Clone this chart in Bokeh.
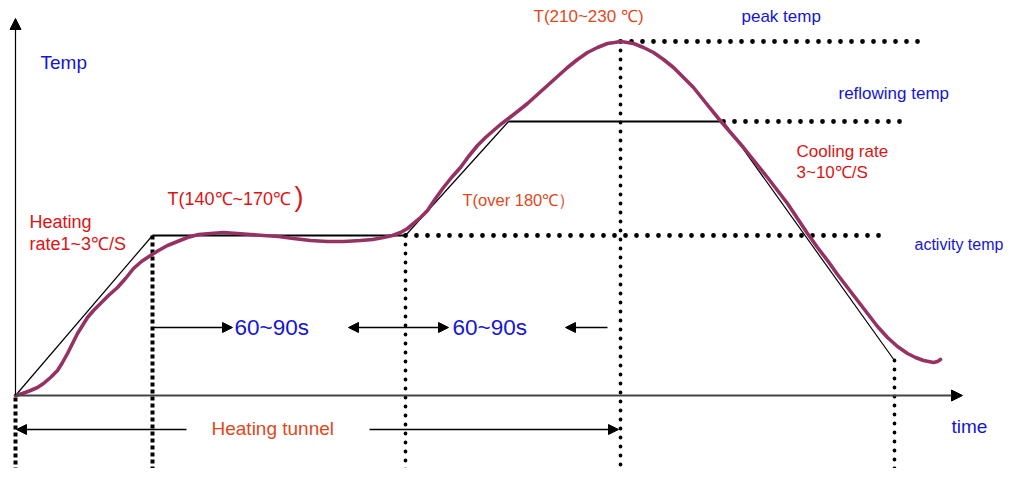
from bokeh.plotting import figure
from bokeh.models import Range1d, Arrow, NormalHead, ColumnDataSource
from bokeh.embed import file_html
from bokeh.resources import INLINE
from bokeh.core.properties import value

# ---------------- data (schematic coordinates; y grows downward) ----
# reflow temperature profile curve
curve_t = [15, 22, 30, 37, 43, 50, 57, 62, 67, 72, 77, 82, 87, 93, 100, 108, 117, 125, 133, 141,
           150, 158, 167, 177, 187, 198, 210, 223, 237, 250, 263, 278, 293, 310, 327, 343,
           360, 372, 383, 392, 400, 407, 413, 420, 427, 435, 443, 451, 460, 468, 477, 485, 493,
           500, 508, 517, 527, 537, 547, 557, 567, 577, 587, 597, 607, 614, 620, 627, 633, 643,
           653, 663, 673, 683, 693, 705, 718, 730, 743, 755, 767, 777, 787, 797, 807, 817, 827,
           837, 847, 857, 867, 877, 887, 897, 907, 915, 923, 928, 933, 937, 940]
curve_v = [395, 393, 390, 387, 383, 377, 370, 362, 353, 343, 333, 325, 317, 310, 303, 295, 287, 278,
           268, 261, 255, 250, 245, 241, 237, 234, 233, 232, 233, 234, 235, 236, 238, 240, 241, 241,
           240, 239, 237, 235, 232, 228, 223, 217, 210, 198, 187, 177, 167, 156, 145, 137, 130,
           124, 118, 111, 103, 94, 85, 76, 67, 59, 52, 47, 43, 42, 41, 42, 43, 47,
           52, 59, 67, 77, 87, 102, 118, 132, 147, 162, 177, 190, 203, 218, 233, 247, 260,
           274, 287, 300, 313, 326, 337, 346, 353, 357, 360, 361, 362, 361, 359]

# idealised profile (thin black polyline)
ideal_slope_t = [[15, 152], [405, 508], [723, 894]]
ideal_slope_v = [[395, 235], [235, 121], [121, 360]]
ideal_flat_t = [[152, 405], [508, 723]]
ideal_flat_v = [[235, 235], [121, 121]]

# key levels / times
t_start, t_soak, t_reflow, t_peak, t_end = 15, 152, 405, 620, 894
v_base, v_activity, v_reflow, v_peak, v_end = 395, 235, 121, 41, 360
t_axis_end = 962
v_axis_top = 18
v_bottom = 484

# dotted guide lines
hdot_x = [[t_reflow, 885], [723, 908], [t_peak, 920]]
hdot_y = [[v_activity, v_activity], [v_reflow, v_reflow], [v_peak, v_peak]]
vdot_x = [[t_reflow, t_reflow], [t_peak, t_peak], [t_end, t_end]]
vdot_y = [[v_activity, v_bottom], [v_peak, v_bottom], [v_end, 474]]
vdash_x = [[t_soak, t_soak], [t_start, t_start]]
vdash_y = [[v_activity, v_bottom], [397, v_bottom]]

# duration arrows
arrow_x0 = [153, 607, 186, 369]
arrow_x1 = [232, 565, 16, 618]
arrow_y = [327, 327, 429, 429]
darrow_x0 = [348]
darrow_x1 = [448]
darrow_y = [327]

# labels
BLUE, RED, ORANGE = "#1515d6", "#dc1414", "#e0481c"
labels = ["Temp", "Heating", "rate1~3℃/S", "T(140℃~170℃", ")", "T(over 180℃）",
          "T(210~230 ℃)", "peak temp", "reflowing temp", "Cooling rate", "3~10℃/S",
          "activity temp", "60~90s", "60~90s", "Heating tunnel", "time"]
label_x = [40, 29, 29, 167, 294, 462, 533, 741, 838, 796, 796, 914, 234, 452, 211, 951]
label_y = [62, 221, 243, 198, 196, 199, 16, 16, 93, 151, 172, 244, 327, 327, 428, 426]
label_c = [BLUE, RED, RED, RED, RED, ORANGE, ORANGE, BLUE, BLUE, RED, RED, BLUE, BLUE, BLUE, ORANGE, BLUE]
label_s = ["19px", "18px", "18px", "18px", "27px", "16.5px", "17px", "17px", "17px", "17px", "17px",
           "16px", "22.5px", "22.5px", "19px", "19px"]

# ---------------- figure ----------------
W, H = 1003, 468
p = figure(width=W, height=H, x_range=Range1d(0, W), y_range=Range1d(H, 0),
           x_axis_type=None, y_axis_type=None, output_backend="svg",
           toolbar_location=None, min_border=0)
p.grid.visible = False
p.outline_line_color = None
p.background_fill_color = "white"
p.border_fill_color = "white"

# dotted guides
p.multi_line(hdot_x, hdot_y, line_color="black", line_width=4.8, line_dash="0 11",
             line_cap="round")
p.multi_line(vdot_x, vdot_y, line_color="black", line_width=3.8, line_dash="0 9",
             line_cap="round")
p.multi_line(vdash_x, vdash_y, line_color="black", line_width=4, line_dash="4 3",
             line_cap="butt")

# idealised profile
p.multi_line(ideal_slope_t, ideal_slope_v, line_color="black", line_width=1.2)
p.multi_line(ideal_flat_t, ideal_flat_v, line_color="black", line_width=2)

# axes (drawn as arrows)
p.add_layout(Arrow(x_start=t_start, y_start=v_base, x_end=t_start, y_end=v_axis_top,
                   line_color="black", line_width=1.2,
                   end=NormalHead(size=11, fill_color="black", line_color="black")))
p.add_layout(Arrow(x_start=t_start, y_start=v_base, x_end=t_axis_end, y_end=v_base,
                   line_color="#444444", line_width=2.2,
                   end=NormalHead(size=11, fill_color="black", line_color="black")))

# profile curve
p.line(curve_t, curve_v, line_color="#953263", line_width=3.6, line_join="round",
       line_cap="round")

# duration arrows
for xa, xb, ya in zip(arrow_x0, arrow_x1, arrow_y):
    p.add_layout(Arrow(x_start=xa, y_start=ya, x_end=xb, y_end=ya, line_color="black",
                       line_width=1.4,
                       end=NormalHead(size=10, fill_color="black", line_color="black")))
for xa, xb, ya in zip(darrow_x0, darrow_x1, darrow_y):
    p.add_layout(Arrow(x_start=xa, y_start=ya, x_end=xb, y_end=ya, line_color="black",
                       line_width=1.4,
                       start=NormalHead(size=10, fill_color="black", line_color="black"),
                       end=NormalHead(size=10, fill_color="black", line_color="black")))

# labels
src = ColumnDataSource(dict(x=label_x, y=label_y, text=labels, color=label_c, size=label_s))
p.text(x="x", y="y", text="text", source=src, text_color="color", text_font_size="size",
       text_font=value("Liberation Sans"), text_align="left", text_baseline="middle")

open("out.html", "w").write(file_html(p, INLINE))
